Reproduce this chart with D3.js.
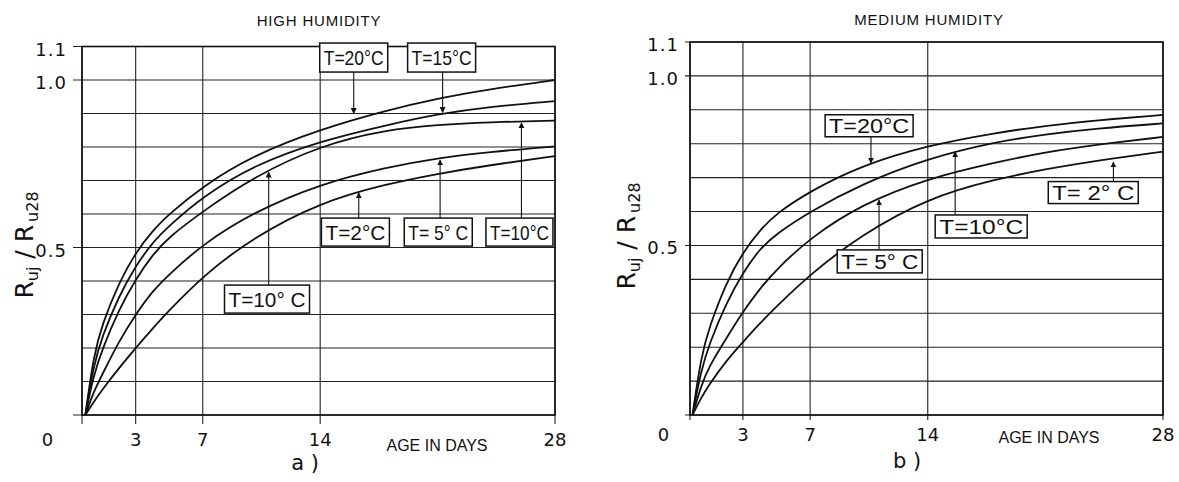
<!DOCTYPE html>
<html>
<head>
<meta charset="utf-8">
<title>Relative strength vs age</title>
<script src="https://cdn.jsdelivr.net/npm/d3@7"></script>
<style>
	body { margin: 0; background: white; }
	svg { display: block; background: white; }
	.grid { stroke: #222; stroke-width: 1.1px; }
	.frame { fill: none; stroke: #111; stroke-width: 1.6px; }
	.curve { fill: none; stroke: #111; stroke-width: 1.8px; }
	.tick { font-family: "DejaVu Sans", sans-serif; font-size: 18px; fill: #111; }
	.title { font-family: "Liberation Sans", Arial, sans-serif; font-size: 15px; fill: #111; letter-spacing: 0.8px; }
	.xname { font-family: "Liberation Sans", Arial, sans-serif; font-size: 16px; fill: #111; }
	.yname { font-family: "DejaVu Sans", sans-serif; font-size: 25px; fill: #111; }
	.panel_id { font-family: "DejaVu Sans", sans-serif; font-size: 21px; fill: #111; }
	.box { fill: white; stroke: #111; stroke-width: 1.5px; }
	.tlabel { font-family: "Liberation Sans", Arial, sans-serif; fill: #111; }
	.arrow { stroke: #111; stroke-width: 1.1px; }
</style>
</head>
<body>
<svg id="chart" width="1179" height="482"></svg>

<script>

	// age in days (x)
	var days = [0, 0.5, 1, 2, 3, 4, 5, 7, 10, 14, 18, 21, 24, 28];

	// a) high humidity, Ruj / Ru28
	var high_t20 = [0, 0.18, 0.27, 0.395, 0.485, 0.55, 0.60, 0.683, 0.775, 0.853, 0.91, 0.945, 0.972, 1.0];
	var high_t15 = [0, 0.15, 0.235, 0.355, 0.445, 0.515, 0.565, 0.652, 0.745, 0.818, 0.866, 0.898, 0.92, 0.937];
	var high_t10 = [0, 0.12, 0.195, 0.315, 0.405, 0.478, 0.532, 0.608, 0.71, 0.805, 0.852, 0.866, 0.874, 0.879];
	var high_t5  = [0, 0.07, 0.12, 0.22, 0.30, 0.37, 0.42, 0.51, 0.605, 0.69, 0.74, 0.767, 0.785, 0.802];
	var high_t2  = [0, 0.04, 0.075, 0.14, 0.20, 0.258, 0.312, 0.415, 0.53, 0.635, 0.69, 0.72, 0.745, 0.773];

	// b) medium humidity
	var med_t20 = [0, 0.17, 0.26, 0.39, 0.48, 0.545, 0.595, 0.66, 0.735, 0.795, 0.832, 0.853, 0.869, 0.885];
	var med_t10 = [0, 0.13, 0.21, 0.33, 0.42, 0.49, 0.535, 0.60, 0.68, 0.757, 0.805, 0.828, 0.845, 0.86];
	var med_t5  = [0, 0.085, 0.145, 0.225, 0.305, 0.372, 0.43, 0.522, 0.62, 0.698, 0.745, 0.775, 0.797, 0.82];
	var med_t2  = [0, 0.05, 0.09, 0.16, 0.215, 0.27, 0.32, 0.415, 0.53, 0.64, 0.695, 0.725, 0.75, 0.777];

	var xTicks = [3, 7, 14, 28];
	var yGrid = d3.range(12).map( i => i / 10 );
	var yTickLabels = [ [1.1, "1.1"], [1.0, "1.0"], [0.5, "0.5"] ];
	var yTicked = [0, 0.5, 1.0, 1.1];

	// temperature labels: arrow at (day, tip), box centred on (bx, by)
	var high_labels = [
		{ text: "T=20°C",  day: 16.0,  tip: 0.9,   bx: 16.0,  by: 1.067, w: 68, h: 29 },
		{ text: "T=15°C",  day: 21.3,  tip: 0.903, bx: 21.24, by: 1.067, w: 68, h: 29 },
		{ text: "T=2°C",   day: 16.3,  tip: 0.663, bx: 16.1,  by: 0.546, w: 68, h: 28 },
		{ text: "T= 5° C", day: 21.15, tip: 0.761, bx: 21.04, by: 0.546, w: 68, h: 28 },
		{ text: "T=10°C",  day: 26.0,  tip: 0.872, bx: 25.88, by: 0.546, w: 67, h: 28 },
		{ text: "T=10° C", day: 10.93, tip: 0.725, bx: 10.83, by: 0.346, w: 85, h: 28 }
	];
	var med_labels = [
		{ text: "T=20°C",  day: 10.62, tip: 0.743, bx: 10.51, by: 0.853, w: 88, h: 22 },
		{ text: "T=10°C",  day: 15.63, tip: 0.776, bx: 17.18, by: 0.556, w: 92, h: 23 },
		{ text: "T= 2° C", day: 25.05, tip: 0.746, bx: 23.85, by: 0.656, w: 90, h: 22 },
		{ text: "T= 5° C", day: 11.1,  tip: 0.634, bx: 11.14, by: 0.453, w: 85, h: 23 }
	];

	var panels = [
		{ title: "HIGH HUMIDITY", id: "a )", series: [high_t20, high_t15, high_t10, high_t5, high_t2],
		  labels: high_labels, labelFont: 21,
		  dayMin: -0.2, left: 82, right: 555, top: 46.5, bottom: 415, tick: 9,
		  titleX: 319, titleY: 26, zeroDx: -38, tickY: 446, ynameX: 33, ynameY: 245,
		  xnameX: 437, xnameY: 451, idX: 305, idY: 470 },
		{ title: "MEDIUM HUMIDITY", id: "b )", series: [med_t20, med_t10, med_t5, med_t2],
		  labels: med_labels, labelFont: 20,
		  dayMin: -0.15, left: 690, right: 1163, top: 42, bottom: 415, tick: 5,
		  titleX: 929, titleY: 25, zeroDx: -29, tickY: 441, ynameX: 635, ynameY: 236,
		  xnameX: 1049, xnameY: 443, idX: 907, idY: 468 }
	];

	var svg = d3.select( "#chart" );

	svg.append( "defs" ).append( "marker" )
		.attr( "id", "head" )
		.attr( "viewBox", "0 0 10 10" )
		.attr( "refX", 9 ).attr( "refY", 5 )
		.attr( "markerUnits", "userSpaceOnUse" )
		.attr( "markerWidth", 6 ).attr( "markerHeight", 7 )
		.attr( "orient", "auto" )
		.append( "path" )
			.attr( "d", "M0,0 L10,5 L0,10 z" )
			.attr( "fill", "#111" );

	panels.forEach( function( p ) {
		var x = d3.scaleLinear().domain( [p.dayMin, 28] ).range( [p.left, p.right] );
		var y = d3.scaleLinear().domain( [0, 1.1] ).range( [p.bottom, p.top] );
		var g = svg.append( "g" );

		// horizontal grid, longer at labelled values
		g.selectAll( "line.h" )
			.data( yGrid ).enter().append( "line" )
				.attr( "class", "grid" )
				.attr( "x1", d => x( p.dayMin ) - ( yTicked.some( t => Math.abs( t - d ) < 1e-9 ) ? p.tick : 0 ) )
				.attr( "x2", x( 28 ) )
				.attr( "y1", d => y( d ) )
				.attr( "y2", d => y( d ) );

		// vertical grid with ticks below
		g.selectAll( "line.v" )
			.data( [p.dayMin].concat( xTicks ) ).enter().append( "line" )
				.attr( "class", "grid" )
				.attr( "x1", d => x( d ) )
				.attr( "x2", d => x( d ) )
				.attr( "y1", y( 1.1 ) )
				.attr( "y2", y( 0 ) + p.tick );

		g.append( "rect" )
			.attr( "class", "frame" )
			.attr( "x", x( p.dayMin ) )
			.attr( "y", y( 1.1 ) )
			.attr( "width", x( 28 ) - x( p.dayMin ) )
			.attr( "height", y( 0 ) - y( 1.1 ) );

		// curves
		var line = d3.line()
			.x( ( d, i ) => x( days[i] ) )
			.y( d => y( d ) )
			.curve( d3.curveBasis );
		g.selectAll( "path.curve" )
			.data( p.series ).enter().append( "path" )
				.attr( "class", "curve" )
				.attr( "d", line );

		// tick labels
		g.selectAll( "text.xt" )
			.data( xTicks ).enter().append( "text" )
				.attr( "class", "tick" )
				.attr( "x", d => x( d ) )
				.attr( "y", p.tickY )
				.attr( "text-anchor", "middle" )
				.text( d => d );
		g.append( "text" )
			.attr( "class", "tick" )
			.attr( "x", x( 0 ) + p.zeroDx )
			.attr( "y", p.tickY )
			.attr( "text-anchor", "middle" )
			.text( "0" );
		g.selectAll( "text.yt" )
			.data( yTickLabels ).enter().append( "text" )
				.attr( "class", "tick" )
				.attr( "x", x( p.dayMin ) - p.tick - 6 )
				.attr( "y", d => y( d[0] ) + 9 )
				.attr( "text-anchor", "end" )
				.attr( "letter-spacing", "1px" )
				.text( d => d[1] );

		// titles
		g.append( "text" )
			.attr( "class", "title" )
			.attr( "x", p.titleX ).attr( "y", p.titleY )
			.attr( "text-anchor", "middle" )
			.text( p.title );
		g.append( "text" )
			.attr( "class", "xname" )
			.attr( "x", p.xnameX ).attr( "y", p.xnameY )
			.attr( "text-anchor", "middle" )
			.text( "AGE IN DAYS" );
		g.append( "text" )
			.attr( "class", "panel_id" )
			.attr( "x", p.idX ).attr( "y", p.idY )
			.attr( "text-anchor", "middle" )
			.text( p.id );

		var yn = g.append( "text" )
			.attr( "class", "yname" )
			.attr( "transform", "translate(" + p.ynameX + "," + p.ynameY + ") rotate(-90)" )
			.attr( "text-anchor", "middle" );
		yn.append( "tspan" ).text( "R" );
		yn.append( "tspan" ).attr( "font-size", "16px" ).attr( "dy", 5 ).text( "uj" );
		yn.append( "tspan" ).attr( "dy", -5 ).text( " / R" );
		yn.append( "tspan" ).attr( "font-size", "16px" ).attr( "dy", 5 ).attr( "dx", 3 ).text( "u28" );

		// temperature labels with arrows
		var lab = g.selectAll( "g.lab" )
			.data( p.labels ).enter().append( "g" );
		lab.append( "line" )
			.attr( "class", "arrow" )
			.attr( "x1", d => x( d.day ) )
			.attr( "x2", d => x( d.day ) )
			.attr( "y1", d => y( d.by ) + ( d.tip > d.by ? -d.h / 2 : d.h / 2 ) )
			.attr( "y2", d => y( d.tip ) )
			.attr( "marker-end", "url(#head)" );
		lab.append( "rect" )
			.attr( "class", "box" )
			.attr( "x", d => x( d.bx ) - d.w / 2 )
			.attr( "y", d => y( d.by ) - d.h / 2 )
			.attr( "width", d => d.w )
			.attr( "height", d => d.h );
		lab.append( "text" )
			.attr( "class", "tlabel" )
			.attr( "font-size", p.labelFont + "px" )
			.attr( "x", d => x( d.bx ) - d.w / 2 + 4 )
			.attr( "y", d => y( d.by ) + p.labelFont * 0.36 )
			.attr( "textLength", d => d.w - 8 )
			.attr( "lengthAdjust", "spacingAndGlyphs" )
			.text( d => d.text );
	} );

</script>
</body>
</html>
